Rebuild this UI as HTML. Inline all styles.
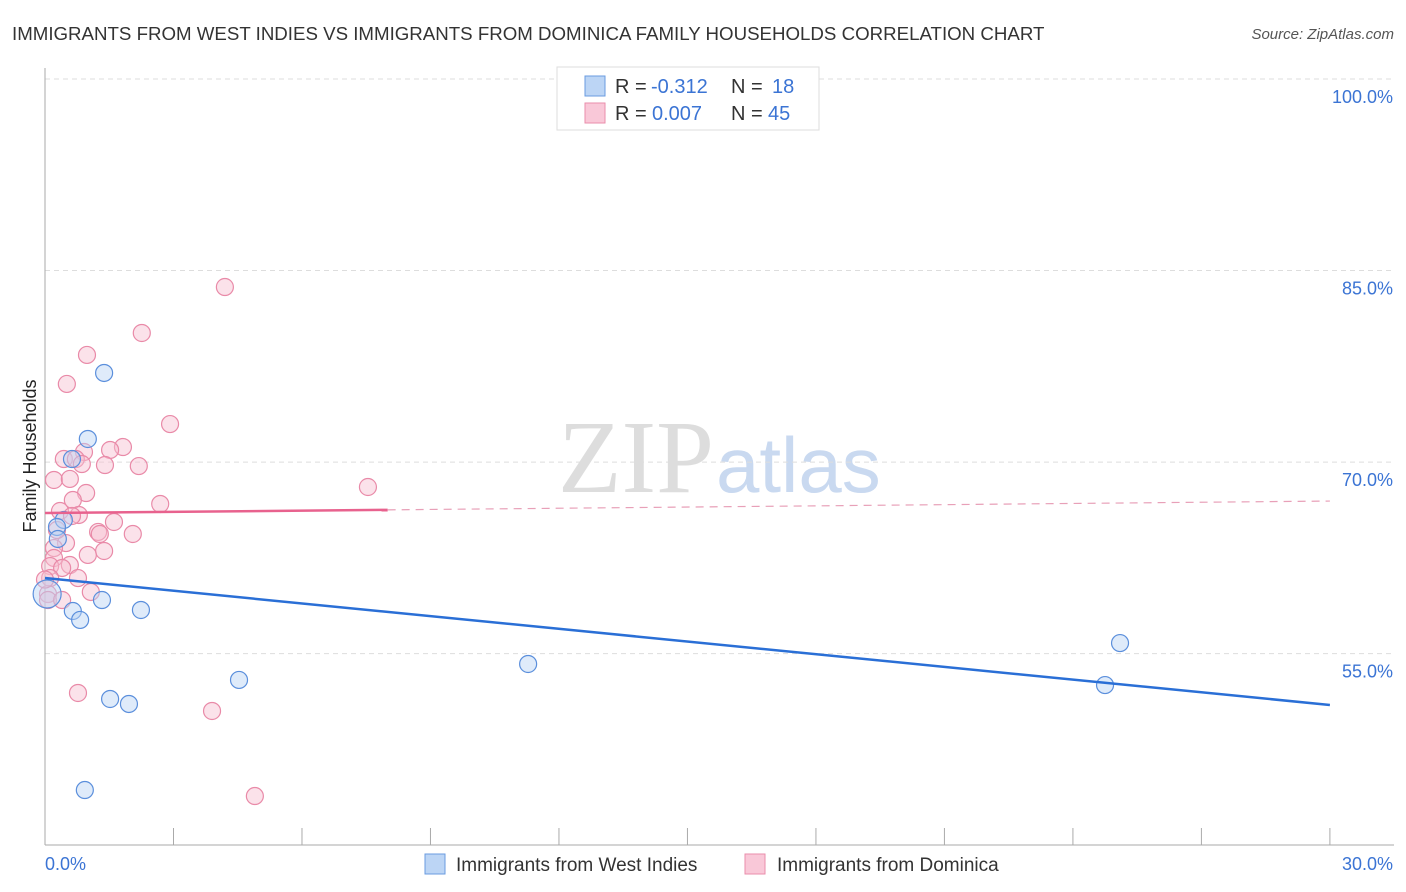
<!DOCTYPE html>
<html><head><meta charset="utf-8"><style>
body{margin:0;background:#fff;font-family:"Liberation Sans",sans-serif}
svg{display:block}
</style></head><body>
<svg id="c" width="1406" height="892">
<text x="12" y="40" font-size="18.7" fill="#333">IMMIGRANTS FROM WEST INDIES VS IMMIGRANTS FROM DOMINICA FAMILY HOUSEHOLDS CORRELATION CHART</text>
<text x="1394" y="39" font-size="15" fill="#555" font-style="italic" text-anchor="end">Source: ZipAtlas.com</text>
<text x="36" y="456" font-size="18" fill="#222" text-anchor="middle" transform="rotate(-90 36 456)">Family Households</text>
<text x="714" y="492" font-size="104" fill="#ddd" font-family="Liberation Serif,serif" text-anchor="end">ZIP</text>
<text x="716" y="492" font-size="78" fill="#c9d9f0">atlas</text>
<g id="grid"></g><g id="marks"></g>
<g>
<rect x="557" y="67" width="262" height="63" fill="#fff" stroke="#ddd"/>
<rect x="585" y="76" width="20" height="20" fill="#bcd5f5" stroke="#6a9be0"/>
<rect x="585" y="103" width="20" height="20" fill="#f9c8d8" stroke="#ea8eab"/>
<text x="615" y="93" font-size="20" fill="#333">R =</text>
<text x="651" y="93" font-size="20" fill="#3b74d4">-0.312</text>
<text x="731" y="93" font-size="20" fill="#333">N =</text>
<text x="772" y="93" font-size="20" fill="#3b74d4">18</text>
<text x="615" y="120" font-size="20" fill="#333">R =</text>
<text x="652" y="120" font-size="20" fill="#3b74d4">0.007</text>
<text x="731" y="120" font-size="20" fill="#333">N =</text>
<text x="768" y="120" font-size="20" fill="#3b74d4">45</text>
</g>
<g>
<rect x="425" y="854" width="20" height="20" fill="#bcd5f5" stroke="#6a9be0"/>
<text x="456" y="871" font-size="19" fill="#333">Immigrants from West Indies</text>
<rect x="745" y="854" width="20" height="20" fill="#f9c8d8" stroke="#ea8eab"/>
<text x="777" y="871" font-size="19" fill="#333">Immigrants from Dominica</text>
</g>
</svg>
<script>
const yTicks=[55,70,85,100];
const xTickLabels=["0.0%","30.0%"];
const blueX=[0.05,1.38,1.00,0.63,0.44,0.28,0.30,1.33,0.65,0.82,2.24,11.28,4.53,1.52,1.96,0.93,25.10,24.75];
const blueY=[59.67,76.98,71.81,70.24,65.47,64.92,63.98,59.2,58.34,57.64,58.42,54.19,52.94,51.45,51.06,44.32,55.83,52.54];
const pinkX=[4.20,2.26,0.98,0.51,2.92,1.82,1.52,0.91,0.44,0.72,0.86,1.40,2.19,0.21,0.58,7.54,0.96,0.65,2.69,0.35,0.79,1.61,1.24,1.28,2.05,0.49,0.21,1.38,1.00,0.21,0.58,0.12,0.40,0.77,0.12,1.07,0.07,0.77,3.90,4.90,0.28,0.63,0.07,0.40,0.0];
const pinkY=[83.71,80.11,78.39,76.12,72.98,71.18,70.95,70.79,70.24,70.24,69.85,69.77,69.69,68.6,68.68,68.05,67.58,67.03,66.72,66.17,65.86,65.31,64.53,64.37,64.37,63.66,63.27,63.04,62.73,62.49,61.94,61.86,61.71,60.92,60.92,59.83,59.67,51.92,50.51,43.85,64.68,65.78,59.2,59.2,60.8];
const blueTrend=[60.92,50.98];
const pinkTrend=[66.01,66.95];
const NS="http://www.w3.org/2000/svg";
const X=v=>45+v*42.83, Y=v=>79+(100-v)*12.77;
function mk(t,a,p){const e=document.createElementNS(NS,t);for(const k in a)e.setAttribute(k,a[k]);p.appendChild(e);return e;}
const g=document.getElementById('grid'),m=document.getElementById('marks');
yTicks.forEach(t=>{
 const l=mk('line',{x1:45,x2:1394,y1:Y(t),y2:Y(t),stroke:'#ddd','stroke-dasharray':'5,4'},g);
 
 
 const tx=mk('text',{x:1393,y:Y(t)+24,'font-size':18,fill:'#3b74d4','text-anchor':'end'},g);tx.textContent=t.toFixed(1)+'%';
 
 
});
mk('line',{x1:45,x2:45,y1:68,y2:845,stroke:'#aaa'},g);
mk('line',{x1:45,x2:1394,y1:845,y2:845,stroke:'#aaa'},g);
for(let i=0;i<=10;i++){mk('line',{x1:X(i*3),x2:X(i*3),y1:828,y2:845,stroke:'#aaa'},g);}
xTickLabels.forEach((s,i)=>{const t=mk('text',{x:i?1393:45,y:870,'font-size':18,fill:'#3b74d4','text-anchor':i?'end':'start'},g);t.textContent=s;
 
 });
function pts(xs,ys,fill,stroke,name){xs.forEach((x,i)=>{const c=mk('circle',{cx:X(x),cy:Y(ys[i]),r:(name==='blue-point'&&i===0)?14:8.5,fill:fill,'fill-opacity':0.45,stroke:stroke,'stroke-width':1.2},m);
 
 });}
pts(pinkX,pinkY,'#f7bfd0','#e98aa8','pink-point');
pts(blueX,blueY,'#b8d2f3','#5b8fdc','blue-point');
const bl=mk('line',{x1:X(0),y1:Y(blueTrend[0]),x2:X(30),y2:Y(blueTrend[1]),stroke:'#2a6fd6','stroke-width':2.5},m);


const py=x=>pinkTrend[0]+(pinkTrend[1]-pinkTrend[0])*x/30;
const p1=mk('line',{x1:X(0),y1:Y(py(0)),x2:X(8),y2:Y(py(8)),stroke:'#e8628e','stroke-width':2.5},m);


const p2=mk('line',{x1:X(8),y1:Y(py(8)),x2:X(30),y2:Y(py(30)),stroke:'#e8a0b8','stroke-width':1.2,'stroke-dasharray':'8,6'},m);


</script>
</body></html>
